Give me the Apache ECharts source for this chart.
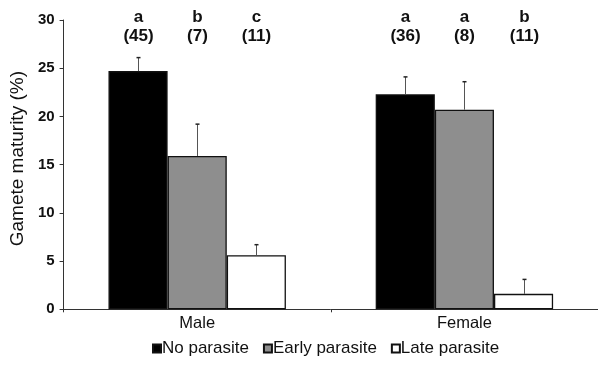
<!DOCTYPE html>
<html><head><meta charset="utf-8">
<script src="https://cdn.jsdelivr.net/npm/echarts@6/dist/echarts.min.js"></script>
<style>html,body{margin:0;padding:0;background:#fff}#c{width:598px;height:365px}</style>
</head><body><div id="c"></div>
<script>
const categories = ['Male', 'Female'];
const groupNames = ['No parasite', 'Early parasite', 'Late parasite'];
const noParasite = [24.7, 22.3];
const earlyParasite = [15.9, 20.7];
const lateParasite = [5.6, 1.6];
const noParasiteErr = [1.4, 1.8];
const earlyParasiteErr = [3.3, 2.9];
const lateParasiteErr = [1.1, 1.5];
const letters = [['a', 'b', 'c'], ['a', 'a', 'b']];
const sampleSizes = [[45, 7, 11], [36, 8, 11]];
const letterLevel = 30.3;
const sizeLevel = 28.3;

const means = [noParasite, earlyParasite, lateParasite];
const errs = [noParasiteErr, earlyParasiteErr, lateParasiteErr];
const colors = ['#000000', '#8e8e8e', '#ffffff'];
const GAP = 0.336;
const FONT = '"Liberation Sans", Arial, sans-serif';

const errData = [];
for (let c = 0; c < categories.length; c++) {
  for (let g = 0; g < 3; g++) {
    errData.push([c, means[g][c], errs[g][c], g, letters[c][g], sampleSizes[c][g]]);
  }
}

const chart = echarts.init(document.getElementById('c'));
const barSeries = groupNames.map((name, g) => ({
  name, type: 'bar', data: means[g],
  barGap: 0, barCategoryGap: (GAP * 100) + '%',
  itemStyle: { color: colors[g], borderColor: '#111', borderWidth: 1.3 },
  emphasis: { disabled: true }, animation: false
}));

chart.setOption({
  animation: false,
  textStyle: { fontFamily: FONT },
  grid: { left: 62, top: 20, width: 542, bottom: 55.7, containLabel: false },
  legend: {
    bottom: 3, left: 147, itemWidth: 8, itemHeight: 8, itemGap: 14,
    icon: 'rect',
    textStyle: { fontFamily: FONT, fontSize: 17, color: '#111', padding: [0, 0, 0, -4] },
    data: groupNames
  },
  xAxis: {
    type: 'category', data: categories,
    axisLine: { lineStyle: { color: '#333', width: 1 } },
    axisTick: { show: true, length: 3, lineStyle: { color: '#333' } },
    axisLabel: { fontFamily: FONT, fontSize: 16.5, color: '#111', margin: 6 },
    splitLine: { show: false }
  },
  yAxis: {
    type: 'value', min: 0, max: 30, interval: 5,
    name: 'Gamete maturity (%)', nameLocation: 'middle', nameGap: 33,
    nameTextStyle: { fontFamily: FONT, fontSize: 19, color: '#111', padding: [0, 0, 0, 12] },
    axisLine: { show: true, lineStyle: { color: '#333', width: 1 } },
    axisTick: { show: true, length: 4, lineStyle: { color: '#333' } },
    axisLabel: { fontFamily: FONT, fontSize: 15, fontWeight: 'bold', color: '#111', margin: 9 },
    splitLine: { show: false }
  },
  series: barSeries.concat([{
    type: 'custom', name: 'err', data: errData, z: 10, silent: true,
    renderItem: function (params, api) {
      const c = api.value(0), m = api.value(1), e = api.value(2), g = api.value(3);
      const band = api.size([1, 0])[0];
      const bw = band * (1 - GAP) / 3;
      const base = api.coord([c, m]);
      const top = api.coord([c, m + e]);
      const x = Math.round(base[0] + (g - 1) * bw) + 0.5;
      const ly = api.coord([c, letterLevel])[1];
      const sy = api.coord([c, sizeLevel])[1];
      return {
        type: 'group', children: [
          { type: 'line', shape: { x1: x, y1: base[1], x2: x, y2: top[1] }, style: { stroke: '#555', lineWidth: 1 } },
          { type: 'line', shape: { x1: x - 2, y1: top[1], x2: x + 2, y2: top[1] }, style: { stroke: '#222', lineWidth: 1.5 } },
          { type: 'text', x: x, y: ly, style: { text: api.value(4), fontFamily: FONT, fontSize: 17, fontWeight: 'bold', fill: '#111', align: 'center', verticalAlign: 'middle' } },
          { type: 'text', x: x, y: sy, style: { text: '(' + api.value(5) + ')', fontFamily: FONT, fontSize: 17, fontWeight: 'bold', fill: '#111', align: 'center', verticalAlign: 'middle' } }
        ]
      };
    }
  }])
});
</script></body></html>
